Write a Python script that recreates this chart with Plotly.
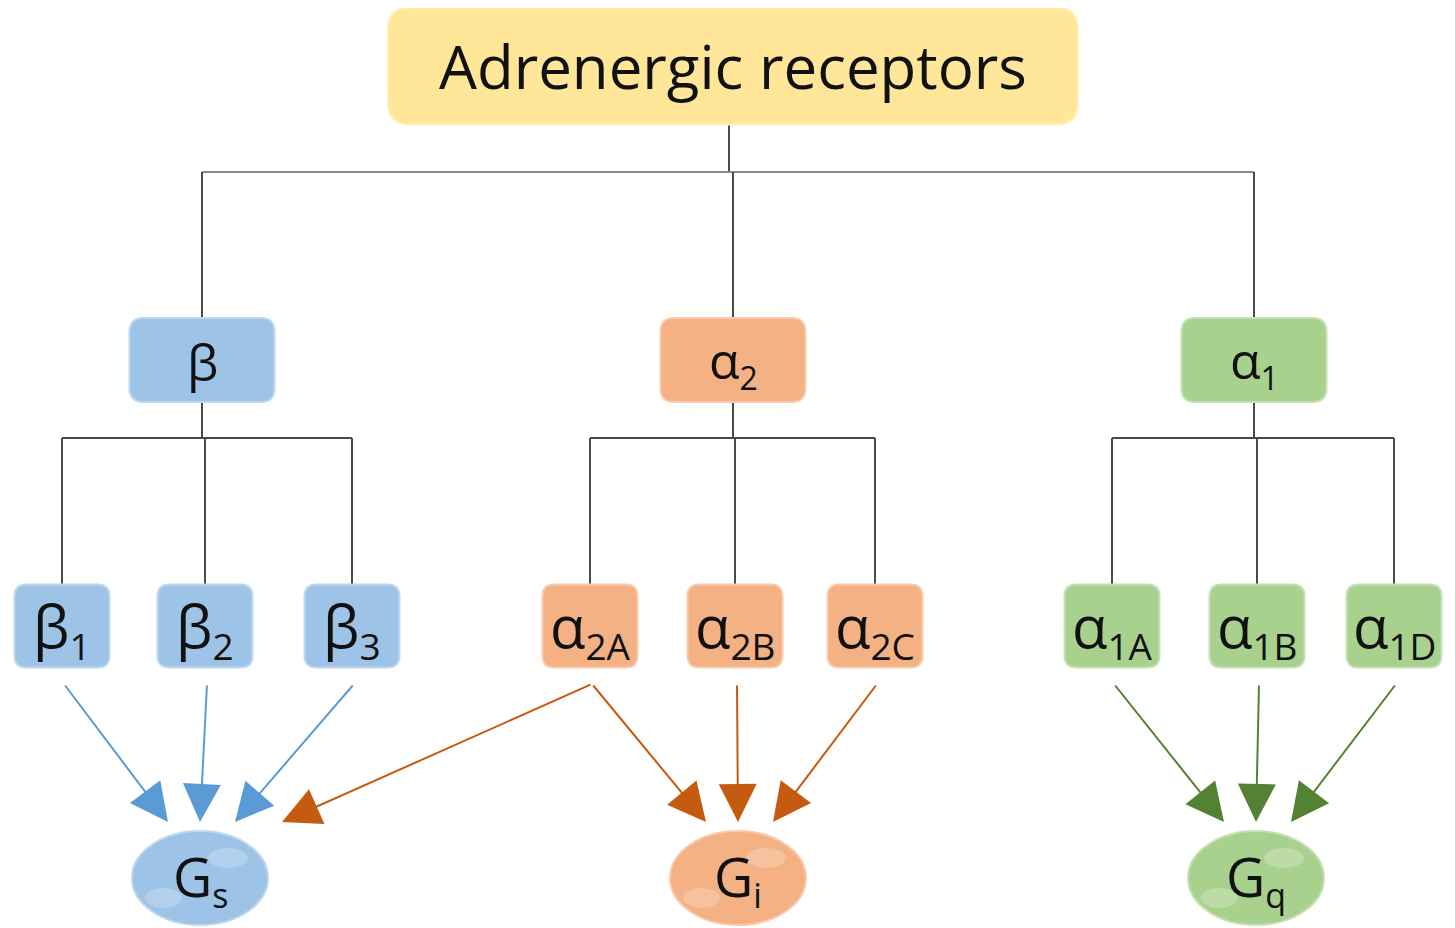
import plotly.graph_objects as go

# ---------------- data ----------------
top_label = "Adrenergic receptors"
group_main = ["β", "α", "α"]
group_sub = ["", "2", "1"]
subtype_main = [["β", "β", "β"], ["α", "α", "α"], ["α", "α", "α"]]
subtype_sub = [["1", "2", "3"], ["2A", "2B", "2C"], ["1A", "1B", "1D"]]
g_main = ["G", "G", "G"]
g_sub = ["s", "i", "q"]
# edges: (group index, subtype index) -> G protein index
edges = [
    (0, 0, 0), (0, 1, 0), (0, 2, 0),
    (1, 0, 0), (1, 0, 1), (1, 1, 1), (1, 2, 1),
    (2, 0, 2), (2, 1, 2), (2, 2, 2),
]

# ---------------- layout (pixel space) ----------------
W, H = 1455, 928
OFF = 8  # page body margin
top_x, top_y, top_w, top_h = 733, 66, 690, 117
group_x = [202, 733, 1254]
group_y, group_w, group_h = 360, 145, 84
sub_x = [[62, 205, 352], [590, 735, 875], [1112, 1257, 1394]]
sub_y, sub_w, sub_h = 626, 95, 83
g_x = [200, 738, 1256]
g_y, g_rx, g_ry = 878, 68, 47
bus1_y, bus2_y = 172, 438
arrow_start_y, arrow_end_y = 684, 822

fills = ["#9DC3E6", "#F4B183", "#A9D18E"]
edges_col = ["#BDD7EE", "#F8CBAD", "#C5E0B4"]
arrow_cols = ["#5B9BD5", "#C55A11", "#548235"]
top_fill = "#FFE699"
line_col = "#4a4a4a"
FONT = "Open Sans"

fig = go.Figure()
shapes = []
annotations = []


def lab(main, sub, sub_size):
    if not sub:
        return main
    return f"{main}<sub><span style='font-size:{sub_size}px'>{sub}</span></sub>"


def rrect(cx, cy, w, h, r, fill, edge):
    x0, x1 = cx - w / 2, cx + w / 2
    y0, y1 = cy - h / 2, cy + h / 2
    p = (f"M{x0 + r},{y0} L{x1 - r},{y0} Q{x1},{y0} {x1},{y0 + r} "
         f"L{x1},{y1 - r} Q{x1},{y1} {x1 - r},{y1} L{x0 + r},{y1} "
         f"Q{x0},{y1} {x0},{y1 - r} L{x0},{y0 + r} Q{x0},{y0} {x0 + r},{y0} Z")
    shapes.append(dict(type="path", path=p, fillcolor=fill,
                       line=dict(color=edge, width=2), layer="above"))


def line(x0, y0, x1, y1, col=line_col, w=2):
    shapes.append(dict(type="line", x0=x0, y0=y0, x1=x1, y1=y1,
                       line=dict(color=col, width=w), layer="below"))


# connectors
line(top_x - 4, top_y + top_h / 2, top_x - 4, bus1_y)
line(group_x[0], bus1_y, group_x[2], bus1_y, col="#888888")
for gx in group_x:
    line(gx, bus1_y, gx, group_y - group_h / 2)
for i, gx in enumerate(group_x):
    line(gx, group_y + group_h / 2, gx, bus2_y)
    line(sub_x[i][0], bus2_y, sub_x[i][2], bus2_y)
    for sx in sub_x[i]:
        line(sx, bus2_y, sx, sub_y - sub_h / 2)

# boxes
rrect(top_x, top_y, top_w, top_h, 22, top_fill, "#FFEFB8")
annotations.append(dict(x=top_x, y=top_y, text=top_label, showarrow=False,
                        font=dict(family=FONT, size=60, color="#111111")))
for i in range(3):
    rrect(group_x[i], group_y, group_w, group_h, 14, fills[i], edges_col[i])
    annotations.append(dict(x=group_x[i], y=group_y + 2,
                            text=lab(group_main[i], group_sub[i], 32),
                            showarrow=False,
                            font=dict(family=FONT, size=50, color="#111111")))
    for j in range(3):
        rrect(sub_x[i][j], sub_y, sub_w, sub_h, 12, fills[i], edges_col[i])
        annotations.append(dict(x=sub_x[i][j], y=sub_y + 2,
                                text=lab(subtype_main[i][j], subtype_sub[i][j], 37),
                                showarrow=False,
                                font=dict(family=FONT, size=58, color="#111111")))
    # G protein ellipse
    shapes.append(dict(type="circle", x0=g_x[i] - g_rx, x1=g_x[i] + g_rx,
                       y0=g_y - g_ry, y1=g_y + g_ry, fillcolor=fills[i],
                       line=dict(color=edges_col[i], width=2), layer="above"))
    shapes.append(dict(type="circle", x0=g_x[i] + 8, x1=g_x[i] + 48,
                       y0=g_y - 30, y1=g_y - 10, fillcolor="rgba(255,255,255,0.22)",
                       line=dict(width=0), layer="above"))
    shapes.append(dict(type="circle", x0=g_x[i] - 55, x1=g_x[i] - 18,
                       y0=g_y + 10, y1=g_y + 30, fillcolor="rgba(255,255,255,0.22)",
                       line=dict(width=0), layer="above"))
    annotations.append(dict(x=g_x[i], y=g_y, text=lab(g_main[i], g_sub[i], 34),
                            showarrow=False,
                            font=dict(family=FONT, size=54, color="#111111")))

# arrows
for gi, sj, tk in edges:
    sx = sub_x[gi][sj]
    tx0 = g_x[tk]
    if gi != tk:
        ex = tx0 + 82
    elif sj == 0:
        ex = tx0 - 32
    elif sj == 1:
        ex = tx0
    else:
        ex = tx0 + 35
    annotations.append(dict(
        x=ex, y=arrow_end_y, ax=sx + 2, ay=arrow_start_y,
        xref="x", yref="y", axref="x", ayref="y", text="",
        showarrow=True, arrowhead=2, arrowsize=3.8, arrowwidth=2,
        arrowcolor=arrow_cols[gi], standoff=0))

fig.update_layout(
    width=W, height=H, margin=dict(l=0, r=0, t=0, b=0),
    paper_bgcolor="white", plot_bgcolor="white",
    xaxis=dict(range=[OFF, W + OFF], visible=False, fixedrange=True),
    yaxis=dict(range=[H + OFF, OFF], visible=False, fixedrange=True),
    shapes=shapes, annotations=annotations, showlegend=False,
)
fig.write_html("out.html")
